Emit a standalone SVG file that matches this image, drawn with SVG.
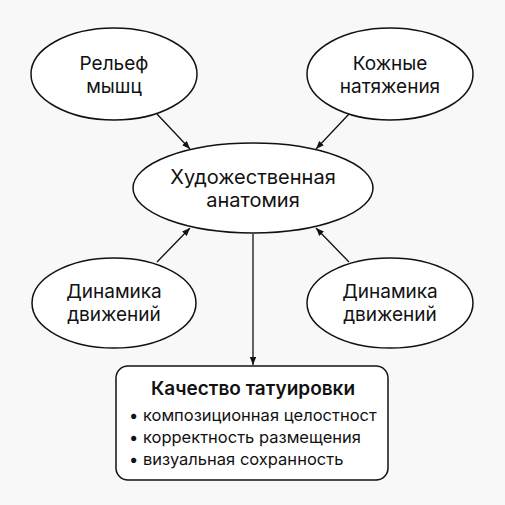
<svg xmlns="http://www.w3.org/2000/svg" width="505" height="505" viewBox="0 0 505 505">
<defs>
<marker id="ah" viewBox="0 0 10 10" refX="10" refY="5" markerWidth="8" markerHeight="8" orient="auto" markerUnits="userSpaceOnUse">
<path d="M0,1 L10,5 L0,9 Z" fill="#111"/>
</marker>
<style>
.n{fill:#fff;stroke:#111;stroke-width:1.5}
.t{font-family:Inter,"Liberation Sans",sans-serif;font-size:19px;fill:#111;text-anchor:middle}
.c{stroke:#111;stroke-width:1.3;fill:none;marker-end:url(#ah)}
.h{font-family:Inter,"Liberation Sans",sans-serif;font-size:19px;font-weight:600;fill:#111;text-anchor:middle}
.b{font-family:Inter,"Liberation Sans",sans-serif;font-size:16.5px;fill:#111}
</style>
</defs>
<rect width="505" height="505" fill="#f8f8f8"/>
<g id="connectors">
<line class="c" x1="157" y1="114" x2="190" y2="149"/>
<line class="c" x1="349" y1="114" x2="316" y2="149"/>
<line class="c" x1="157" y1="262" x2="190" y2="228"/>
<line class="c" x1="349" y1="262" x2="316" y2="228"/>
<line class="c" x1="253" y1="234" x2="253" y2="365"/>
</g>
<g id="relief">
<ellipse class="n" cx="114" cy="74" rx="83" ry="46"/>
<text class="t" x="114" y="70">Рельеф</text>
<text class="t" x="114" y="93">мышц</text>
</g>
<g id="skin">
<ellipse class="n" cx="390" cy="74" rx="83" ry="46"/>
<text class="t" x="390" y="70">Кожные</text>
<text class="t" x="390" y="93">натяжения</text>
</g>
<g id="anatomy">
<ellipse class="n" cx="253" cy="188" rx="120" ry="45"/>
<text class="t" x="253" y="184" style="font-size:20px">Художественная</text>
<text class="t" x="253" y="207" style="font-size:20px">анатомия</text>
</g>
<g id="dyn1">
<ellipse class="n" cx="114" cy="303" rx="82" ry="45"/>
<text class="t" x="114" y="298">Динамика</text>
<text class="t" x="114" y="321">движений</text>
</g>
<g id="dyn2">
<ellipse class="n" cx="390" cy="303" rx="83" ry="45"/>
<text class="t" x="390" y="298">Динамика</text>
<text class="t" x="390" y="321">движений</text>
</g>
<g id="quality">
<rect class="n" x="116" y="366" width="272" height="114" rx="12"/>
<text class="h" x="253" y="395">Качество татуировки</text>
<text class="b" x="129" y="421">• композиционная целостност</text>
<text class="b" x="129" y="443">• корректность размещения</text>
<text class="b" x="129" y="465">• визуальная сохранность</text>
</g>
</svg>
